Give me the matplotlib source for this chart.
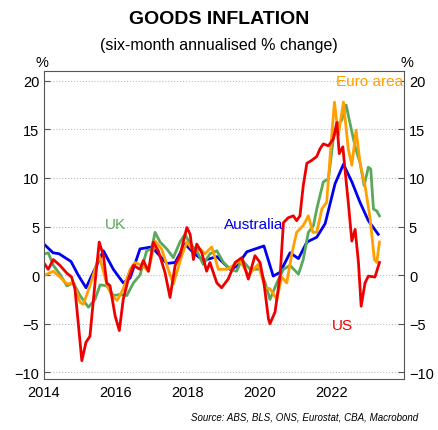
import matplotlib
matplotlib.use("Agg")
import matplotlib.pyplot as plt
import numpy as np

# months since Jan 2014
aus_m = [0.3,3,5,9,11.4,14,19.8,23.1,26.4,28.7,32,35.9,40.9,43.7,47,49.8,53.1,57.6,62,64.2,67.6,73.3,76.4,78.7,82,84.8,87.6,90.9,93.7,97,99.8,102.6,105.3,108.1,111.4]
aus_v = [3.1,2.3,2.2,1.4,0,-1.3,2.5,0.6,-0.8,-0.3,2.7,2.9,1.2,1.3,3.2,2.3,1.5,1.9,0.6,0.9,2.4,3.0,-0.1,0.3,2.3,1.7,3.4,3.9,5.3,9.4,11.4,9.6,7.5,5.6,4.2]

us_m = [0.3,1.4,3.1,5.3,7.6,9.2,10.3,11.4,12.6,14,15.3,17,18.4,19.8,20.9,22,23.7,25.1,26.4,28.1,29.8,32,33.1,34.8,36.4,38.1,40.3,42,43.7,45.3,47.6,48.7,49.8,50.9,52.6,54.2,55.3,57.6,59.2,61.4,63.7,65.9,68.1,70.3,72,73.3,74.8,75.3,77,78.7,79.8,81.4,83.1,84.2,85.3,86.4,87.6,89.2,90.9,92,93.1,94.8,96.4,97.6,98.4,99.6,100.3,101.4,102.6,103.7,104.8,105.7,107,108.1,110.3,111.8]
us_v = [1.1,0.6,1.6,1.0,0.2,-0.2,-1.4,-4.9,-8.8,-6.9,-6.3,-0.8,3.4,2.0,-0.8,-1.1,-4.2,-5.7,-2.5,-0.4,1.0,0.6,1.5,0.4,3.4,2.5,0.3,-2.3,1.0,2.0,4.9,4.2,1.6,3.2,2.3,0.4,1.3,-0.8,-1.3,-0.4,1.3,1.8,-0.4,2.0,1.3,-0.8,-4.5,-5.0,-3.8,0.0,5.4,5.9,6.1,5.6,6.1,9.2,11.5,11.8,12.2,13.0,13.5,13.3,14.0,15.7,12.5,13.2,10.9,7.5,3.5,4.7,1.3,-3.2,-0.8,-0.1,-0.2,1.3]

uk_m = [0.3,1.4,3.1,5.3,7.6,9.8,12,14.8,17,18.7,20.9,23.1,25.3,27.6,29.8,32,34.2,35.9,37,38.7,40.9,43.1,45.3,47,48.7,50.9,53.1,55.3,57.6,59.8,62,64.2,65.9,68.7,72,73.7,75.3,77.6,79.8,82,84.8,86.4,88.1,89.8,90.9,93.1,94.8,96.4,97.6,99.2,100.7,102,103.7,105.3,106.7,108.1,108.9,109.8,110.9,111.8]
uk_v = [2.2,2.3,1.0,0.1,-1.1,-0.8,-2.1,-3.3,-2.5,-1.0,-1.1,-2.1,-2.0,-2.1,-0.8,0,2.5,2.7,4.4,3.4,2.7,1.8,3.4,4.2,3.2,2.5,1.1,2.2,2.5,1.3,0.6,0.4,1.6,0.6,0.6,-0.8,-2.5,-0.8,0.6,1.0,0.1,1.6,4.4,5.1,6.8,9.6,9.9,14.0,15.4,15.9,17.5,15.6,13.2,11.6,9.2,11.1,10.9,6.8,6.6,6.1]

eu_m = [0.3,3.1,5.3,7.6,9.8,12,13.1,15.3,18.4,20.9,22.6,24.4,26.4,28.7,30.3,32.6,34.8,37,39.2,41.4,43.1,45.9,47.6,49.8,52,53.7,55.9,58.1,60.9,63.1,65.3,68.1,71.4,73.7,75.3,77.6,79.2,80.9,82.6,84.2,86.4,88.1,89.6,90.9,92.6,94.2,95.3,96.8,98.1,99.8,101.4,102.6,104,105.3,107,108.7,110.1,110.9,111.8]
eu_v = [0,0.4,-0.2,-0.9,-0.8,-2.8,-3.0,-1.1,2.0,-0.9,-2.1,-2.6,-1.4,0.6,1.3,1.0,0.4,3.5,2.7,0.6,-0.9,2.0,3.4,2.5,2.7,2.2,2.9,0.6,0.6,1.0,1.5,0,1.1,-1.3,-1.4,-2.5,-0.2,-0.8,2.2,4.4,5.1,6.1,4.4,4.4,6.8,7.5,12.0,17.8,14.4,17.8,13.0,11.3,14.9,11.6,9.2,5.8,1.6,1.3,3.4]

yticks = [-10, -5, 0, 5, 10, 15, 20]
xticks = [2014, 2016, 2018, 2020, 2022]

plt.rcParams['font.family'] = ['Liberation Sans', 'DejaVu Sans']
fig = plt.figure(figsize=(4.38, 4.31), dpi=100)
ax = fig.add_axes([0.1005, 0.118, 0.822, 0.715])

def yr(m):
    return 2014 + np.array(m) / 12.0

ax.plot(yr(aus_m), aus_v, color='#0000ee', lw=2)
ax.plot(yr(uk_m), uk_v, color='#5aa85a', lw=2)
ax.plot(yr(eu_m), eu_v, color='#ff9f00', lw=2)
ax.plot(yr(us_m), us_v, color='#ee0000', lw=2)

ax.set_xlim(2014, 2024)
ax.set_ylim(-10.7, 21)
ax.set_yticks(yticks)
ax.set_xticks(xticks)
ax.tick_params(labelsize=10.5, direction='in', length=4, color='#555555')
ax.tick_params(axis='y', right=True, labelright=True)
ax.tick_params(axis='x', length=0, pad=4)
for s in ax.spines.values():
    s.set_color('#555555')
ax.grid(axis='y', color='#bbbbbb', ls=':', lw=0.8)

ax.text(2015.7, 4.8, 'UK', color='#5aa85a', fontsize=11)
ax.text(2019.0, 4.8, 'Australia', color='#0000ee', fontsize=11)
ax.text(2022.1, 19.6, 'Euro area', color='#ff9f00', fontsize=11)
ax.text(2022.0, -5.5, 'US', color='#ee0000', fontsize=11)

fig.text(0.095, 0.845, '%', fontsize=10.5, ha='center')
fig.text(0.93, 0.845, '%', fontsize=10.5, ha='center')
fig.text(0.5, 0.945, 'GOODS INFLATION', fontsize=14, fontweight='bold', ha='center')
fig.text(0.5, 0.885, '(six-month annualised % change)', fontsize=11.5, ha='center')
fig.text(0.955, 0.025, 'Source: ABS, BLS, ONS, Eurostat, CBA, Macrobond', fontsize=7, style='italic', ha='right')

fig.savefig('out.png', dpi=100)
